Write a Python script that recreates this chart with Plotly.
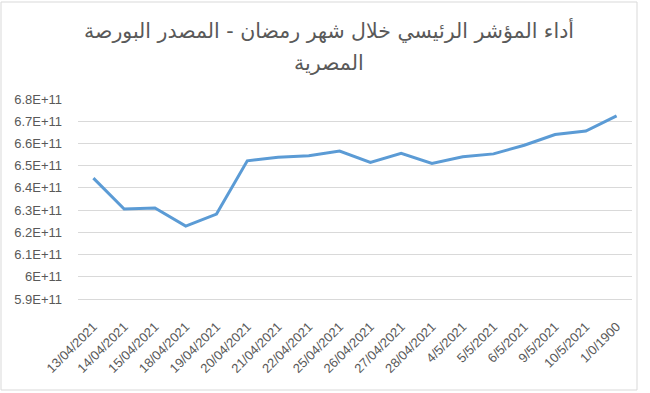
import plotly.graph_objects as go

dates = ["13/04/2021", "14/04/2021", "15/04/2021", "18/04/2021", "19/04/2021",
         "20/04/2021", "21/04/2021", "22/04/2021", "25/04/2021", "26/04/2021",
         "27/04/2021", "28/04/2021", "4/5/2021", "5/5/2021", "6/5/2021",
         "9/5/2021", "10/5/2021", "1/0/1900"]
values = [6.444e11, 6.305e11, 6.31e11, 6.228e11, 6.282e11,
          6.522e11, 6.538e11, 6.545e11, 6.566e11, 6.515e11,
          6.556e11, 6.51e11, 6.54e11, 6.553e11, 6.592e11,
          6.64e11, 6.656e11, 6.724e11]
y_tick_vals = [5.9e11, 6.0e11, 6.1e11, 6.2e11, 6.3e11, 6.4e11, 6.5e11, 6.6e11, 6.7e11, 6.8e11]
y_tick_text = ["5.9E+11", "6E+11", "6.1E+11", "6.2E+11", "6.3E+11", "6.4E+11",
               "6.5E+11", "6.6E+11", "6.7E+11", "6.8E+11"]
title_line1 = "أداء المؤشر الرئيسي خلال شهر رمضان - المصدر البورصة"
title_line2 = "المصرية"

fig = go.Figure()
fig.add_trace(go.Scatter(
    x=dates, y=values, mode="lines",
    line=dict(color="#5B9BD5", width=3),
    hoverinfo="skip",
))

fig.update_layout(
    width=650, height=393,
    margin=dict(l=78, r=18, t=99, b=94, autoexpand=False),
    paper_bgcolor="white", plot_bgcolor="white",
    showlegend=False,
    font=dict(family="Liberation Sans, DejaVu Sans, sans-serif", color="#595959", size=13),
    xaxis=dict(type="category", range=[-0.5, len(dates) - 0.5], tickangle=-45,
               showgrid=False, showline=True, linecolor="#d9d9d9", ticks="",
               ticklabelstandoff=14, automargin=False,
               tickfont=dict(size=13, color="#595959")),
    yaxis=dict(range=[5.9e11, 6.8e11], tickvals=y_tick_vals, ticktext=y_tick_text,
               showgrid=True, gridcolor="#d9d9d9", gridwidth=1, zeroline=False,
               showline=False, ticks="", ticklabelstandoff=15, automargin=False,
               tickfont=dict(size=13, color="#595959")),
    annotations=[
        dict(text=title_line1, xref="paper", yref="paper", x=(329 - 78) / 554,
             y=(299 - 31) / 200, xanchor="center", yanchor="middle", showarrow=False,
             font=dict(size=20.5, color="#595959", family="DejaVu Sans, sans-serif")),
        dict(text=title_line2, xref="paper", yref="paper", x=(329 - 78) / 554,
             y=(299 - 63) / 200, xanchor="center", yanchor="middle", showarrow=False,
             font=dict(size=20.5, color="#595959", family="DejaVu Sans, sans-serif")),
    ],
    shapes=[dict(type="rect", xref="paper", yref="paper",
                 x0=-77 / 554, x1=(637 - 78) / 554, y0=-(390 - 299) / 200, y1=(299 - 2) / 200,
                 line=dict(color="#d9d9d9", width=1), fillcolor="rgba(0,0,0,0)",
                 layer="below")],
)

fig.write_html("out.html", config={"displayModeBar": False},
               post_script="document.body.style.margin='0';")
